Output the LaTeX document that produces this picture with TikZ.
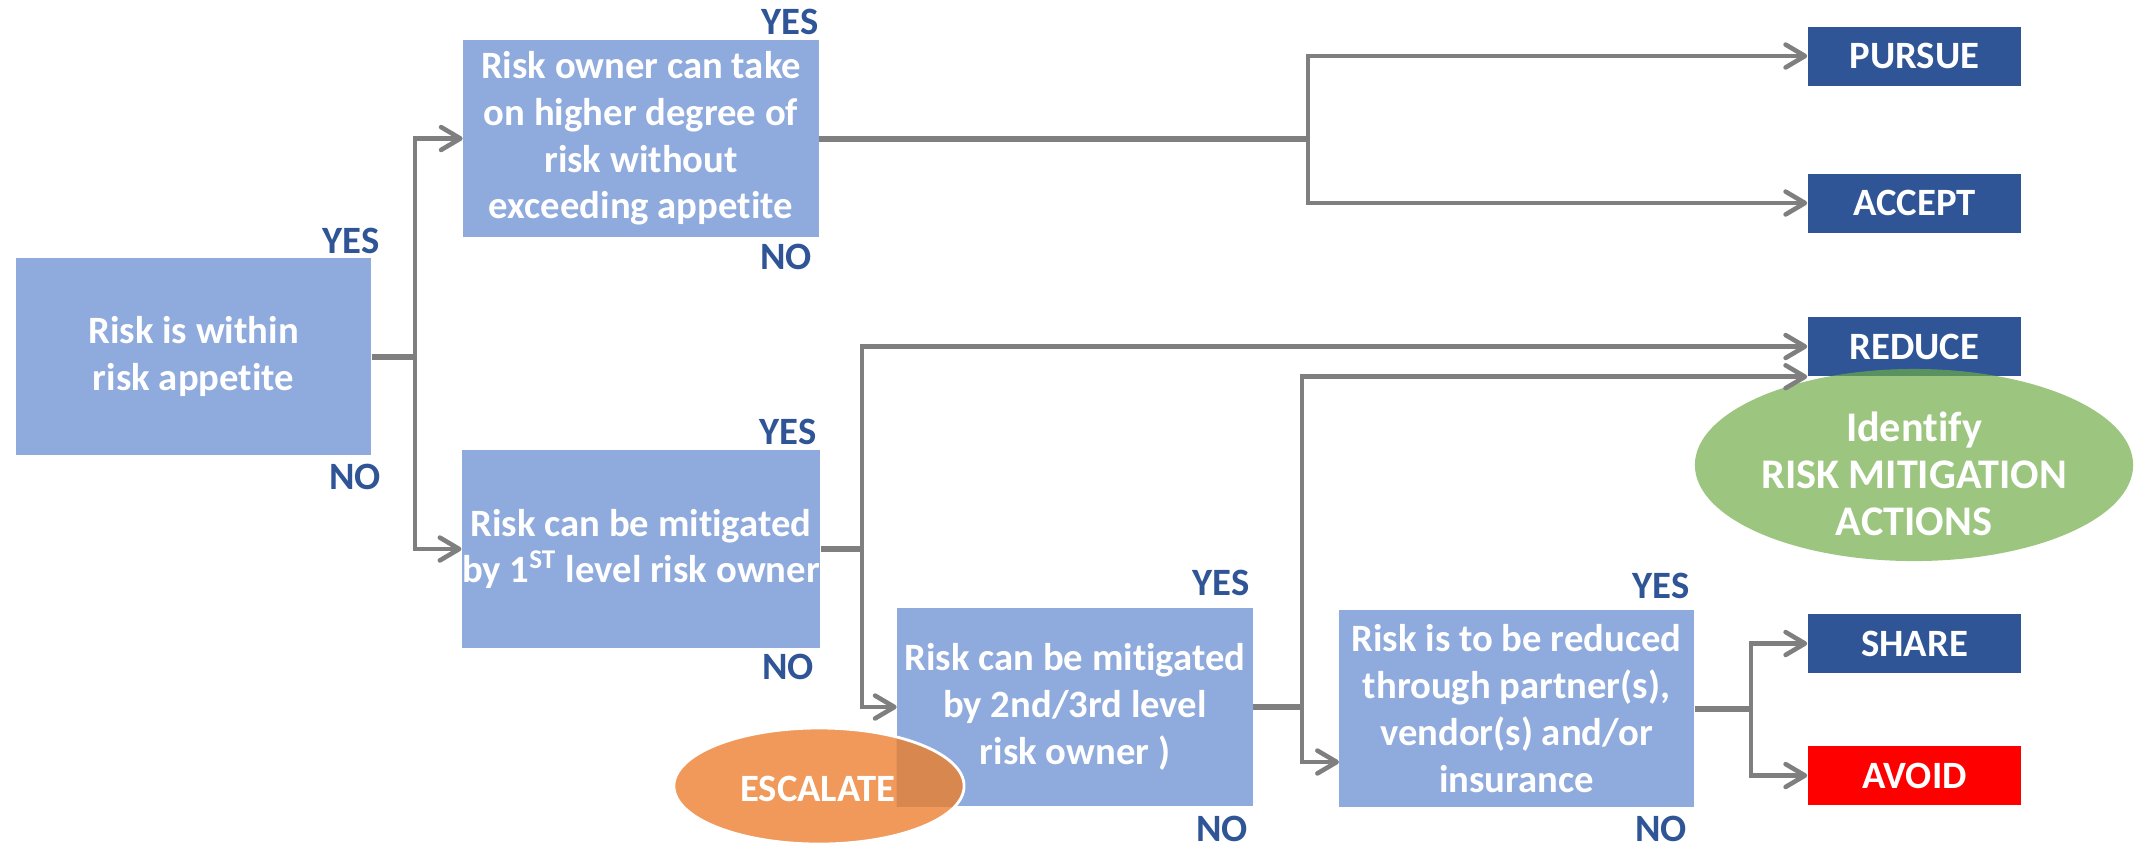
\documentclass[tikz,border=0pt]{standalone}
\usepackage{fontspec}
\setmainfont{Carlito}[Ligatures=NoCommon]
\usetikzlibrary{arrows.meta,shapes.geometric,calc}
\definecolor{boxblue}{HTML}{8FAADC}
\definecolor{navy}{HTML}{2F5597}
\definecolor{linegray}{HTML}{7F7F7F}
\definecolor{escorange}{HTML}{F0995A}
\definecolor{escdark}{HTML}{D8874F}
\definecolor{mitgreen}{HTML}{70AD47}
\definecolor{avoidred}{HTML}{FF0000}

\tikzset{
  decision/.style={rectangle, fill=boxblue, text=white,
    font=\bfseries\fontsize{11}{13.3}\selectfont, align=center,
    minimum width=3.55cm, minimum height=1.97cm, inner sep=0pt},
  action/.style={rectangle, fill=navy, text=white,
    font=\bfseries\fontsize{11}{13}\selectfont,
    minimum width=2.13cm, minimum height=0.59cm, inner sep=0pt},
  answer/.style={text=navy, font=\bfseries\fontsize{11}{13}\selectfont, inner sep=0pt},
  conn/.style={draw=linegray, line width=1.3pt},
  stub/.style={draw=linegray, line width=1.7pt},
  flow/.style={conn, -{Straight Barb[length=5.5pt,width=6.5pt,round]}},
  bubble/.style={ellipse, inner sep=0pt, text=white, align=center},
}

\begin{document}
\begin{tikzpicture}[x=0.01cm, y=-0.01cm]
\useasboundingbox (0,0) rectangle (2144,850);
\fill[white] (0,0) rectangle (2144,850);

% decision boxes
\node[decision] (b1) at (193.5,356.5) {Risk is within\\risk appetite};
\node[decision] (b2) at (641,138.5) {Risk owner can take\\on higher degree of\\risk without\\exceeding appetite};
\node[decision] (b3) at (641,549) {Risk can be mitigated\\by 1\textsuperscript{ST} level risk owner};
\node[decision] (b4) at (1075,707) {Risk can be mitigated\\by 2nd/3rd level\\risk owner )};
\node[decision] (b5) at (1516.5,708.5) {Risk is to be reduced\\through partner(s),\\vendor(s) and/or\\insurance};

% outcomes
\node[action] (pursue) at (1914.5,56) {PURSUE};
\node[action] (accept) at (1914.5,203) {ACCEPT};
\node[action] (reduce) at (1914.5,346.5) {REDUCE};
\node[action] (share) at (1914.5,643.5) {SHARE};
\node[action, fill=avoidred] (avoid) at (1914.5,775.5) {AVOID};

% answer labels
\node[answer] (y1) at (351,241) {YES};
\node[answer] (n1) at (355,477) {NO};
\node[answer] (y2) at (790,22) {YES};
\node[answer] (n2) at (786,257) {NO};
\node[answer] (y3) at (788,432) {YES};
\node[answer] (n3) at (788,667) {NO};
\node[answer] (y4) at (1221,583) {YES};
\node[answer] (n4) at (1222,829) {NO};
\node[answer] (y5) at (1661,586) {YES};
\node[answer] (n5) at (1661,829) {NO};

% mitigation bubble over REDUCE
\node[bubble, fill=mitgreen, fill opacity=0.69, minimum width=4.38cm, minimum height=1.92cm] (mit) at (1914,465) {};
\node[text=white, align=center, font=\bfseries\fontsize{12}{13.3}\selectfont] (mittext) at (1914,474) {Identify\\RISK MITIGATION\\ACTIONS};

% escalate bubble overlapping the second-level box
\node[bubble, fill=escorange, minimum width=2.9cm, minimum height=1.16cm] (esc) at (819,786) {};
\begin{scope}
  \clip (b4.north west) rectangle (b4.south east);
  \fill[escdark] (esc.center) ellipse [x radius=1.45cm, y radius=0.58cm];
\end{scope}
\draw[white, line width=0.8pt] (esc.center) ellipse [x radius=1.45cm, y radius=0.58cm];
\node[text=white, font=\bfseries\fontsize{11}{13}\selectfont] (esctext) at (818,789) {ESCALATE};

% junctions
\coordinate (j1) at (415,356.5);
\coordinate (j2) at (1308,138.5);
\coordinate (j3) at (862,549);
\coordinate (j4) at (1302,707);
\coordinate (j5) at (1751,708.5);
\coordinate (b5in) at (1339,762);

% connectors
\draw[stub] (b1.east) -- (j1);
\draw[flow] (j1) |- (b2.west);
\draw[flow] (j1) |- (b3.west);

\draw[stub] (b2.east) -- (j2);
\draw[flow] (j2) |- (pursue.west);
\draw[flow] (j2) |- (accept.west);

\draw[stub] (b3.east) -- (j3);
\draw[flow] (j3) |- (reduce.west);
\draw[flow] (j3) |- (b4.west);

\draw[stub] (b4.east) -- (j4);
\draw[flow] (j4) |- (reduce.south west);
\draw[flow] (j4) |- (b5in);

\draw[stub] (b5.east) -- (j5);
\draw[flow] (j5) |- (share.west);
\draw[flow] (j5) |- (avoid.west);
\end{tikzpicture}
\end{document}
